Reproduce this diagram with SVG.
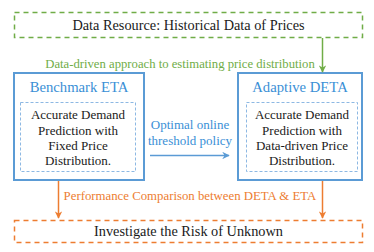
<svg xmlns="http://www.w3.org/2000/svg" width="374" height="252" viewBox="0 0 374 252">
<defs>
<style>
.t{font-family:'Liberation Serif','Times New Roman',serif;text-anchor:middle}
.blk{fill:#1a1a1a}
.g{fill:#70ad47}
.b{fill:#3a8fd6}
.o{fill:#ed7d31}
.outer{fill:#fff;stroke:#5b9bd5;stroke-width:2}
.inner{fill:none;stroke:#8db8e3;stroke-width:1;stroke-dasharray:3 2}
</style>
<marker id="ag" viewBox="0 0 10 10" refX="9" refY="5" markerWidth="5" markerHeight="5" orient="auto"><path d="M0,0 L10,5 L0,10 L3,5 z" fill="#70ad47"/></marker>
<marker id="ab" viewBox="0 0 10 10" refX="9" refY="5" markerWidth="5" markerHeight="5" orient="auto"><path d="M0,0 L10,5 L0,10 L3,5 z" fill="#5b9bd5"/></marker>
<marker id="ao" viewBox="0 0 10 10" refX="9" refY="5" markerWidth="5" markerHeight="5" orient="auto"><path d="M0,0 L10,5 L0,10 L3,5 z" fill="#ed7d31"/></marker>
</defs>
<rect width="374" height="252" fill="#fff"/>
<g id="data-resource">
<rect x="14.5" y="12.5" width="348" height="25" fill="none" stroke="#70ad47" stroke-width="1.5" stroke-dasharray="5 4"/>
<text class="t blk" x="188.5" y="30" font-size="14.3">Data Resource: Historical Data of Prices</text>
</g>
<g id="benchmark-eta">
<rect class="outer" x="14" y="73" width="130" height="107"/>
<text class="t b" x="79" y="92" font-size="14.7">Benchmark ETA</text>
<rect class="inner" x="20.5" y="102.5" width="115" height="69"/>
<text class="t blk" font-size="13"><tspan x="78" y="119">Accurate Demand</tspan><tspan x="78" y="135">Prediction with</tspan><tspan x="78" y="150">Fixed Price</tspan><tspan x="78" y="165">Distribution.</tspan></text>
</g>
<g id="adaptive-deta">
<rect class="outer" x="238" y="73" width="124" height="107"/>
<text class="t b" x="300" y="92" font-size="14.7">Adaptive DETA</text>
<rect class="inner" x="246.5" y="102.5" width="111" height="69"/>
<text class="t blk" font-size="13"><tspan x="302" y="119">Accurate Demand</tspan><tspan x="302" y="135">Prediction with</tspan><tspan x="302" y="150">Data-driven Price</tspan><tspan x="302" y="165">Distribution.</tspan></text>
</g>
<g id="risk-of-unknown">
<rect x="14.5" y="220.5" width="348" height="22" fill="none" stroke="#ed7d31" stroke-width="1.5" stroke-dasharray="5 4"/>
<text class="t blk" x="188.5" y="236" font-size="14.3">Investigate the Risk of Unknown</text>
</g>
<g id="connectors">
<line x1="322.5" y1="38" x2="322.5" y2="72" stroke="#70ad47" stroke-width="1.5" marker-end="url(#ag)"/>
<text class="t g" x="180" y="68" font-size="12.7">Data-driven approach to estimating price distribution</text>
<line x1="150" y1="155.5" x2="229" y2="155.5" stroke="#5b9bd5" stroke-width="1.5" marker-end="url(#ab)"/>
<text class="t b" font-size="13"><tspan x="190" y="129">Optimal online</tspan><tspan x="190" y="145">threshold policy</tspan></text>
<line x1="58.5" y1="181" x2="58.5" y2="218" stroke="#ed7d31" stroke-width="1.5" marker-end="url(#ao)"/>
<line x1="322.5" y1="181" x2="322.5" y2="218" stroke="#ed7d31" stroke-width="1.5" marker-end="url(#ao)"/>
<text class="t o" x="190" y="200" font-size="12.8">Performance Comparison between DETA &amp; ETA</text>
</g>
</svg>
